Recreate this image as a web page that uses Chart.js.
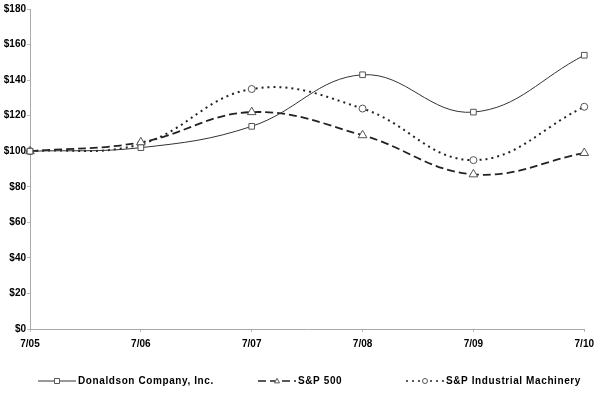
<!DOCTYPE html>
<html>
<head>
<meta charset="utf-8">
<script src="https://cdn.jsdelivr.net/npm/chart.js@4.4.1/dist/chart.umd.min.js"></script>
<style>
  html, body { margin: 0; padding: 0; background: #fff; }
  #wrap { width: 600px; height: 403px; }
</style>
</head>
<body>
<div id="wrap"><canvas id="chart"></canvas></div>
<script>
const years = ['7/05', '7/06', '7/07', '7/08', '7/09', '7/10'];
const donaldson = [100, 102, 114, 143, 122, 154];
const sp500 = [100, 105, 122, 109, 87, 99];
const spIndustrial = [100, 104, 135, 124, 95, 125];
const seriesNames = ['Donaldson Company, Inc.', 'S&P 500', 'S&P Industrial Machinery'];

const FONT = '"Liberation Sans", Arial, sans-serif';

// legend sample placement (line start x, line length)
const legendSlots = [
  { x: 38, len: 38 },
  { x: 258, len: 38 },
  { x: 406, len: 38 }
];

function drawMarker(ctx, style, x, y, r) {
  ctx.beginPath();
  if (style === 'rect') {
    ctx.rect(x - r, y - r, r * 2, r * 2);
  } else if (style === 'triangle') {
    ctx.moveTo(x, y - r * 1.1);
    ctx.lineTo(x + r, y + r * 0.75);
    ctx.lineTo(x - r, y + r * 0.75);
    ctx.closePath();
  } else {
    ctx.arc(x, y, r, 0, Math.PI * 2);
  }
  ctx.fillStyle = '#fff';
  ctx.fill();
  ctx.setLineDash([]);
  ctx.stroke();
}

const legendPlugin = {
  id: 'lineLegend',
  afterDraw(chart) {
    const ctx = chart.ctx;
    const y = 381;
    ctx.save();
    chart.data.datasets.forEach((ds, i) => {
      const slot = legendSlots[i];
      ctx.strokeStyle = ds.borderColor;
      ctx.lineWidth = Math.min(ds.borderWidth, 1.5);
      ctx.setLineDash(ds.borderDash || []);
      ctx.beginPath();
      ctx.moveTo(slot.x, y);
      ctx.lineTo(slot.x + slot.len, y);
      ctx.stroke();
      ctx.strokeStyle = ds.pointBorderColor;
      ctx.lineWidth = 1;
      drawMarker(ctx, ds.pointStyle, slot.x + slot.len / 2, y, 2.5);
      ctx.fillStyle = '#000';
      ctx.font = 'bold 10px ' + FONT;
      ctx.textBaseline = 'middle';
      ctx.textAlign = 'left';
      if ('letterSpacing' in ctx) ctx.letterSpacing = '0.6px';
      ctx.fillText(ds.label, slot.x + slot.len + 2, y);
    });
    ctx.restore();
  }
};

new Chart(document.getElementById('chart'), {
  type: 'line',
  data: {
    labels: years,
    datasets: [
      {
        label: seriesNames[0],
        data: donaldson,
        borderColor: '#333',
        borderWidth: 1,
        pointStyle: 'rect',
        pointRadius: 4,
        pointBorderColor: '#555',
        pointBackgroundColor: '#fff',
        pointBorderWidth: 1,
        tension: 0.4
      },
      {
        label: seriesNames[1],
        data: sp500,
        borderColor: '#222',
        borderWidth: 1.8,
        borderDash: [8, 4],
        pointStyle: 'triangle',
        pointRadius: 5,
        pointBorderColor: '#555',
        pointBackgroundColor: '#fff',
        pointBorderWidth: 1,
        tension: 0.4
      },
      {
        label: seriesNames[2],
        data: spIndustrial,
        borderColor: '#222',
        borderWidth: 2,
        borderDash: [2, 4],
        pointStyle: 'circle',
        pointRadius: 3.5,
        pointBorderColor: '#555',
        pointBackgroundColor: '#fff',
        pointBorderWidth: 1,
        tension: 0.4
      }
    ]
  },
  options: {
    responsive: true,
    maintainAspectRatio: false,
    animation: false,
    layout: { padding: { top: 9, right: 15, left: 0, bottom: 0 } },
    plugins: {
      legend: { display: false },
      tooltip: { enabled: false }
    },
    scales: {
      x: {
        offset: false,
        grid: { drawOnChartArea: false, drawTicks: true, tickLength: 3, color: '#bbb' },
        border: { color: '#aaa', width: 1 },
        ticks: {
          color: '#000',
          font: { family: FONT, size: 10, weight: 'bold' },
          padding: 6,
          maxRotation: 0,
          autoSkip: false
        },
        afterFit(scale) { scale.height = 74; }
      },
      y: {
        min: 0,
        max: 180,
        grid: { drawOnChartArea: false, drawTicks: true, tickLength: 3, color: '#bbb' },
        border: { color: '#aaa', width: 1 },
        ticks: {
          stepSize: 20,
          color: '#000',
          font: { family: FONT, size: 10, weight: 'bold' },
          padding: 1,
          callback: v => '$' + v
        },
        afterFit(scale) { scale.width = 30; }
      }
    }
  },
  plugins: [legendPlugin]
});
</script>
</body>
</html>
